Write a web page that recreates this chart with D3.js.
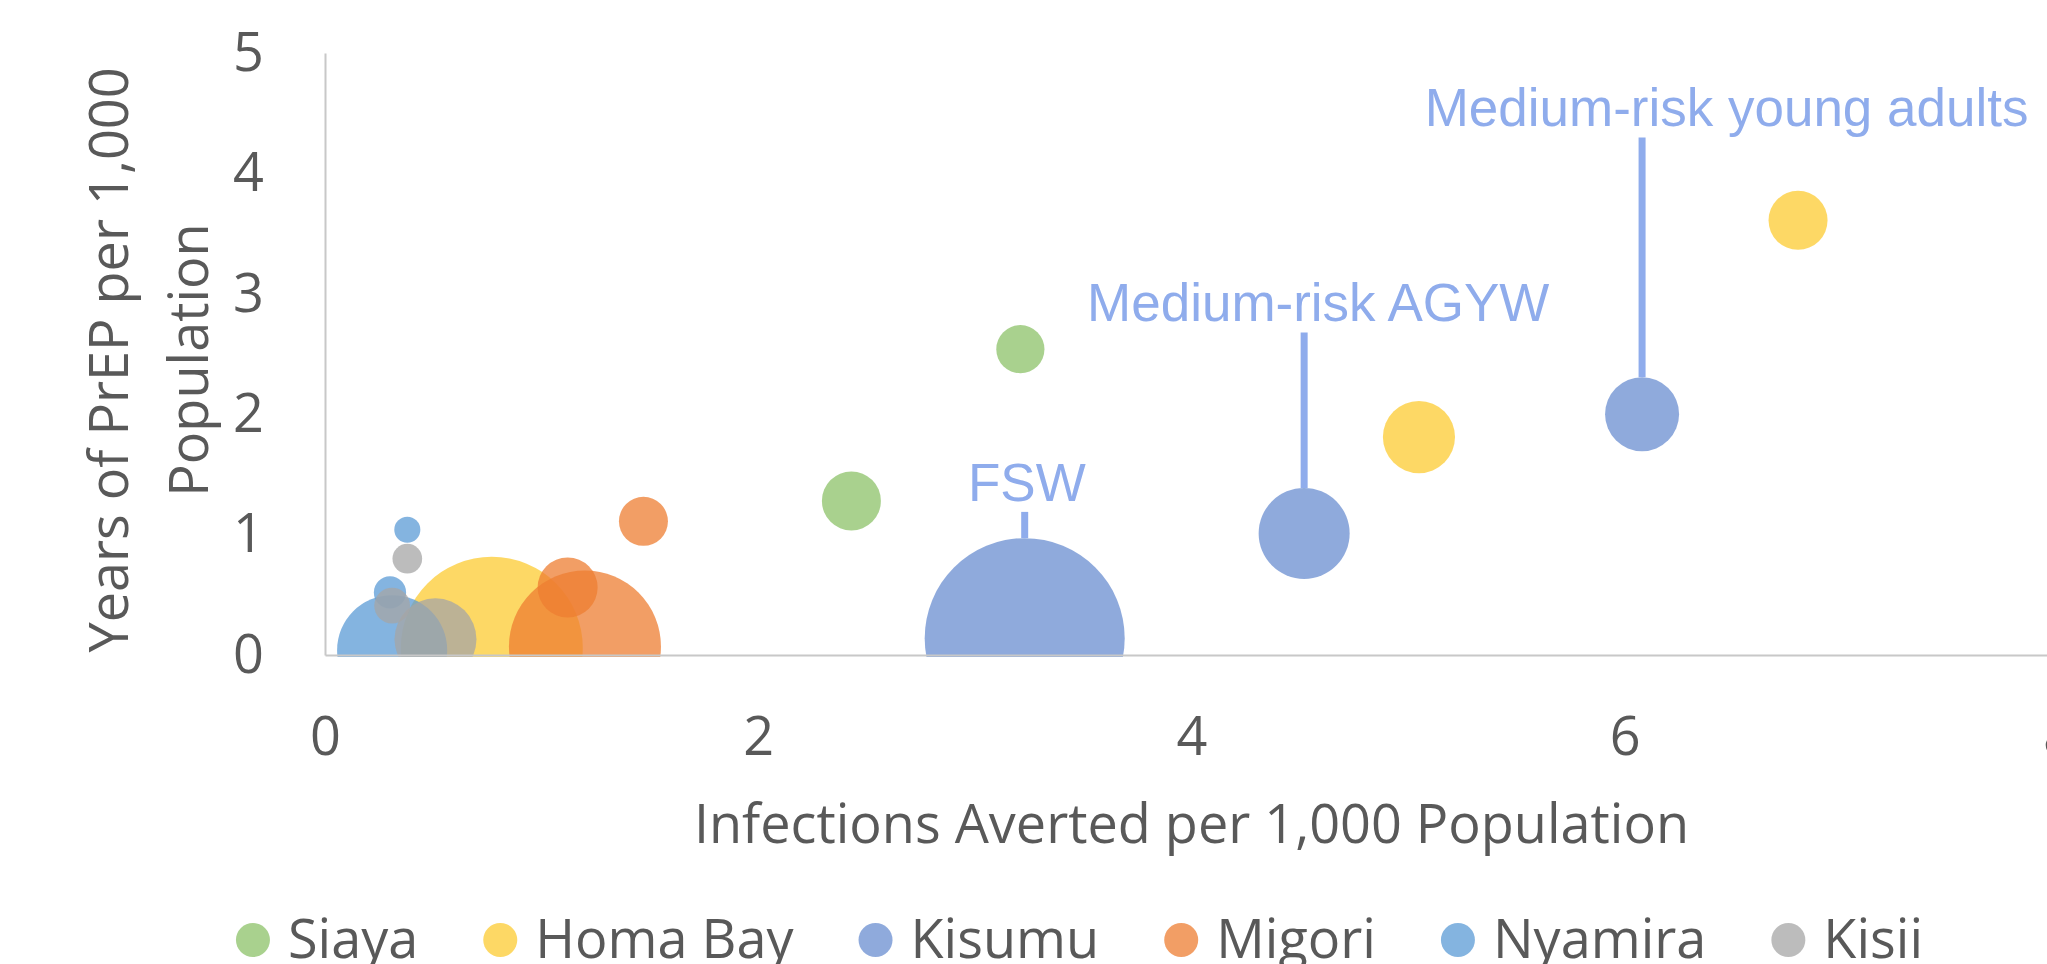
<!DOCTYPE html>
<html>
<head>
<meta charset="utf-8">
<script src="https://cdn.jsdelivr.net/npm/d3@7"></script>
<style>
  body { margin: 0; background: #fff; }
  svg { display: block; }
</style>
</head>
<body>
<div class="container"></div>
<script>
var W = 2047, H = 964;

// series (one per county), drawn in this order
var counties = ["Siaya", "Homa Bay", "Kisumu", "Migori", "Nyamira", "Kisii"];
var countyColors = ["#8CC268", "#FCCB32", "#6A8ED0", "#ED7D31", "#5B9BD5", "#A5A5A5"];

// x = infections averted per 1,000, y = years of PrEP per 1,000, size = bubble size
var siayaX = [2.43, 3.21],        siayaY = [1.28, 2.54],        siayaSize = [8.7, 5.8];
var homaBayX = [0.77, 5.05, 6.80], homaBayY = [0.06, 1.81, 3.61], homaBaySize = [82.8, 13.0, 8.7];
var kisumuX = [3.23, 4.52, 6.08],  kisumuY = [0.14, 1.01, 2.00],  kisumuSize = [100, 20.7, 13.7];
var migoriX = [1.20, 1.12, 1.47],  migoriY = [0.07, 0.56, 1.11],  migoriSize = [57.8, 9.0, 6.0];
var nyamiraX = [0.31, 0.30, 0.38], nyamiraY = [0.04, 0.52, 1.04], nyamiraSize = [30.3, 2.6, 1.7];
var kisiiX = [0.51, 0.31, 0.38],   kisiiY = [0.13, 0.41, 0.80],   kisiiSize = [16.8, 3.2, 2.2];

var xTicks = [0, 2, 4, 6, 8];
var yTicks = [0, 1, 2, 3, 4, 5];

// labels on Kisumu bubbles (label position in data units)
var annoText = ["FSW", "Medium-risk AGYW", "Medium-risk young adults"];
var annoBubble = [0, 1, 2];
var annoX = [3.24, 4.585, 6.47];
var annoY = [1.28, 2.77, 4.39];

var seriesX = [siayaX, homaBayX, kisumuX, migoriX, nyamiraX, kisiiX];
var seriesY = [siayaY, homaBayY, kisumuY, migoriY, nyamiraY, kisiiY];
var seriesSize = [siayaSize, homaBaySize, kisumuSize, migoriSize, nyamiraSize, kisiiSize];

var textFont = "'Open Sans', sans-serif";
var textColor = "#595959";
var annoColor = "#8FACEC";

var svg = d3.select(".container").append("svg")
    .attr("width", W)
    .attr("height", H);

var x = d3.scaleLinear().domain([0, 8]).range([325, 2058]);
var y = d3.scaleLinear().domain([0, 5]).range([655, 53]);
var r = d3.scaleSqrt().domain([0, 100]).range([0, 100]);

//clip the bubbles at the bottom of the plot
svg.append("clipPath").attr("id", "plotclip")
  .append("rect")
    .attr("x", 0).attr("y", 0)
    .attr("width", W).attr("height", 657);

var points = [];
counties.forEach(function (c, i) {
    seriesX[i].forEach(function (v, j) {
        points.push({county: c, ci: i, x: v, y: seriesY[i][j], size: seriesSize[i][j]});
    });
});

svg.append("g")
    .attr("clip-path", "url(#plotclip)")
  .selectAll("circle")
  .data(points)
  .enter().append("circle")
    .attr("cx", function (d) { return x(d.x); })
    .attr("cy", function (d) { return y(d.y); })
    .attr("r", function (d) { return r(d.size); })
    .attr("fill", function (d) { return countyColors[d.ci]; })
    .attr("fill-opacity", 0.75);

// axes
var yAxis = svg.append("g")
    .attr("transform", "translate(" + x(0) + ",0)")
    .call(d3.axisLeft(y).tickValues(yTicks).tickFormat(d3.format("d"))
        .tickSize(0).tickSizeOuter(0).tickPadding(61));

var xAxis = svg.append("g")
    .attr("transform", "translate(0," + y(0) + ")")
    .call(d3.axisBottom(x).tickValues(xTicks).tickFormat(d3.format("d"))
        .tickSize(0).tickSizeOuter(0).tickPadding(62));

[yAxis, xAxis].forEach(function (a) {
    a.select(".domain").attr("stroke", "#C8C8C8").attr("stroke-width", 2);
    a.selectAll("text")
        .attr("font-family", textFont)
        .attr("font-size", 54)
        .attr("fill", textColor);
});

// axis titles
svg.append("text")
    .attr("x", (x.range()[0] + x.range()[1]) / 2)
    .attr("y", 843)
    .attr("text-anchor", "middle")
    .attr("font-family", textFont)
    .attr("font-size", 54)
    .attr("fill", textColor)
    .text("Infections Averted per 1,000 Population");

var yTitle = svg.append("text")
    .attr("transform", "translate(128,360) rotate(-90)")
    .attr("text-anchor", "middle")
    .attr("font-family", textFont)
    .attr("font-size", 54)
    .attr("fill", textColor);
yTitle.append("tspan").attr("x", 0).attr("y", 0).text("Years of PrEP per 1,000");
yTitle.append("tspan").attr("x", 0).attr("y", 80).text("Population");

// annotation labels with leader lines
var kisumuPts = points.filter(function (d) { return d.county == "Kisumu"; });
annoText.forEach(function (t, i) {
    var p = kisumuPts[annoBubble[i]];
    var ly = y(annoY[i]);
    svg.append("line")
        .attr("x1", x(p.x)).attr("x2", x(p.x))
        .attr("y1", ly + 11)
        .attr("y2", y(p.y) - r(p.size))
        .attr("stroke", annoColor)
        .attr("stroke-width", 7);
    svg.append("text")
        .attr("x", x(annoX[i]))
        .attr("y", ly)
        .attr("text-anchor", "middle")
        .attr("font-family", "'Liberation Sans', Arial, sans-serif")
        .attr("font-size", 53)
        .attr("fill", annoColor)
        .text(t);
});

// legend
var legend = svg.append("g");
var lx = 0;
counties.forEach(function (c, i) {
    var item = legend.append("g").attr("transform", "translate(" + lx + ",0)");
    item.append("circle")
        .attr("cx", 17).attr("cy", 940).attr("r", 17)
        .attr("fill", countyColors[i]).attr("fill-opacity", 0.75);
    var t = item.append("text")
        .attr("x", 52).attr("y", 958)
        .attr("font-family", textFont)
        .attr("font-size", 54)
        .attr("fill", textColor)
        .text(c);
    lx += 52 + t.node().getComputedTextLength() + 65;
});
var legendW = lx - 65;
legend.attr("transform", "translate(" + (1079.5 - legendW / 2) + ",0)");
</script>
</body>
</html>
